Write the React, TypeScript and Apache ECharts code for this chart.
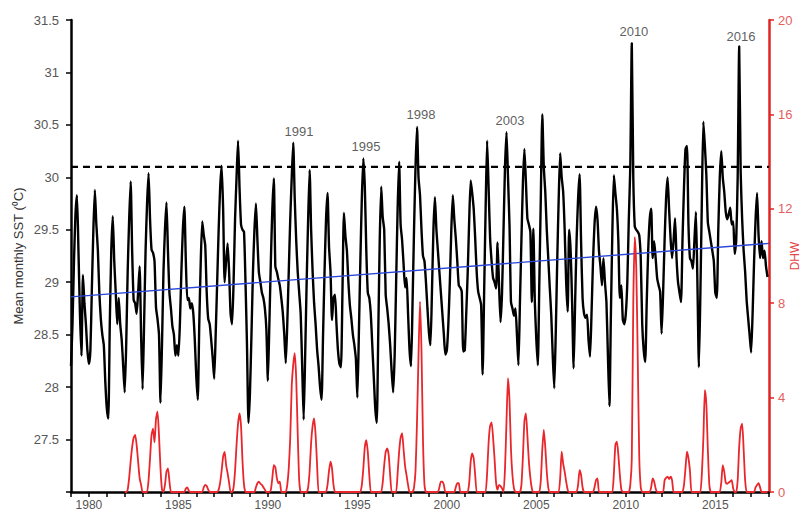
import React, { useEffect, useRef } from "react";
import * as echarts from "echarts";

// Monthly mean SST (°C), Jan 1979 – Dec 2017, one row per year
const sstStartYear = 1979;
const sstMonthly: number[] = [
  28.2, 28.6, 29.2, 29.65, 29.83, 29.3, 28.7, 28.3, 29.07, 28.8, 28.6, 28.35, // 1979
  28.22, 28.35, 28.95, 29.5, 29.88, 29.55, 29.31, 28.9, 28.65, 28.5, 28.4, 28.05, // 1980
  27.8, 27.7, 28.6, 29.3, 29.63, 29.2, 28.9, 28.6, 28.85, 28.6, 28.45, 28.2, // 1981
  27.95, 28.4, 29.1, 29.6, 29.96, 29.3, 28.83, 28.8, 28.7, 28.9, 29.15, 28.5, // 1982
  27.98, 28.6, 29.3, 29.75, 30.04, 29.6, 29.31, 29.28, 29.2, 28.76, 28.65, 28.5, // 1983
  27.85, 28.4, 29.1, 29.5, 29.76, 29.3, 28.9, 28.75, 28.58, 28.5, 28.3, 28.4, // 1984
  28.3, 28.6, 29.1, 29.5, 29.72, 29.2, 28.83, 28.85, 28.75, 28.8, 28.7, 28.45, // 1985
  28.1, 27.88, 28.6, 29.2, 29.58, 29.45, 29.35, 28.9, 28.65, 28.6, 28.45, 28.28, // 1986
  28.08, 28.5, 29.0, 29.5, 29.9, 30.11, 29.7, 29.0, 29.2, 29.37, 29.1, 28.7, // 1987
  28.6, 29.0, 29.6, 30.0, 30.35, 29.9, 29.55, 29.5, 29.48, 29.0, 28.4, 27.66, // 1988
  27.95, 28.5, 29.1, 29.5, 29.75, 29.4, 29.09, 29.0, 28.9, 28.85, 28.75, 28.55, // 1989
  28.06, 28.6, 29.2, 29.7, 29.99, 29.15, 29.1, 29.03, 28.97, 28.85, 28.71, 28.5, // 1990
  28.23, 28.6, 29.1, 29.6, 30.0, 30.33, 29.8, 29.4, 29.1, 28.9, 28.7, 28.2, // 1991
  27.69, 28.3, 29.0, 29.6, 30.07, 29.5, 29.1, 28.8, 28.6, 28.36, 28.2, 28.0, // 1992
  27.88, 28.5, 29.1, 29.6, 29.85, 29.34, 29.1, 28.64, 28.85, 28.88, 28.6, 28.35, // 1993
  28.22, 28.19, 28.9, 29.66, 29.44, 29.3, 29.0, 28.78, 28.65, 28.5, 28.4, 28.27, // 1994
  27.9, 28.5, 29.2, 29.8, 30.18, 29.91, 29.3, 28.9, 28.85, 28.7, 28.4, 28.1, // 1995
  27.8, 27.66, 28.5, 29.4, 29.91, 29.62, 29.5, 28.88, 28.75, 28.6, 28.4, 28.15, // 1996
  27.95, 28.3, 29.0, 29.7, 30.15, 29.55, 29.4, 29.17, 28.95, 29.04, 28.7, 28.35, // 1997
  28.2, 28.8, 29.5, 30.1, 30.48, 30.0, 29.83, 29.5, 29.25, 29.2, 29.0, 28.75, // 1998
  28.52, 28.4, 28.9, 29.5, 29.81, 29.5, 29.3, 29.1, 28.9, 28.7, 28.5, 28.31, // 1999
  28.35, 28.6, 29.0, 29.5, 29.83, 29.6, 29.42, 29.2, 28.97, 28.95, 28.91, 28.34, // 2000
  28.35, 28.7, 29.1, 29.6, 29.97, 29.85, 29.7, 29.42, 29.1, 28.91, 28.85, 28.78, // 2001
  28.12, 28.9, 29.7, 30.35, 29.9, 29.42, 29.2, 29.04, 29.0, 28.94, 29.38, 28.97, // 2002
  28.62, 28.9, 29.5, 30.1, 30.43, 30.0, 29.55, 28.81, 28.75, 28.68, 28.75, 28.5, // 2003
  28.21, 28.8, 29.4, 29.95, 30.27, 29.96, 29.61, 29.55, 29.48, 28.81, 29.51, 28.81, // 2004
  28.45, 28.21, 29.0, 29.8, 30.6, 30.1, 29.86, 29.5, 29.23, 28.95, 28.69, 28.3, // 2005
  27.99, 28.5, 29.2, 29.8, 30.23, 30.0, 29.86, 29.5, 29.0, 28.72, 29.5, 29.3, // 2006
  28.8, 28.18, 28.8, 29.4, 29.8, 30.03, 29.39, 28.85, 28.7, 28.66, 28.69, 28.45, // 2007
  28.29, 28.7, 29.2, 29.55, 29.72, 29.6, 29.3, 29.15, 28.97, 29.23, 29.0, 28.81, // 2008
  28.3, 27.82, 28.7, 29.5, 30.02, 29.85, 29.7, 29.39, 28.85, 28.97, 28.64, 28.6, // 2009
  28.7, 29.0, 29.6, 30.1, 31.28, 30.0, 29.53, 29.5, 29.48, 29.45, 29.23, 28.6, // 2010
  28.35, 28.24, 28.8, 29.3, 29.6, 29.7, 29.23, 29.39, 29.23, 29.04, 28.97, 28.91, // 2011
  28.51, 28.9, 29.4, 29.8, 30.0, 29.7, 29.42, 29.23, 29.39, 29.61, 29.23, 29.0, // 2012
  28.9, 28.81, 29.4, 29.9, 30.27, 30.3, 29.55, 29.23, 29.2, 29.13, 29.4, 29.67, // 2013
  29.0, 28.19, 28.9, 29.8, 30.53, 30.3, 30.02, 29.57, 29.48, 29.39, 29.3, 29.2, // 2014
  28.9, 28.85, 29.5, 30.0, 30.25, 30.0, 29.86, 29.67, 29.6, 29.65, 29.71, 29.55, // 2015
  29.58, 29.27, 29.39, 30.0, 31.25, 30.05, 29.6, 29.3, 29.1, 28.83, 28.66, 28.5, // 2016
  28.33, 28.7, 29.2, 29.6, 29.85, 29.45, 29.23, 29.39, 29.23, 29.3, 29.15, 29.05, // 2017
];

// Degree heating weeks, Jan 1982 – Dec 2017
const dhwStartYear = 1982;
const dhwMonthly: number[] = [
  0, 0, 0.1, 0.6, 1.3, 1.9, 2.3, 2.42, 2.0, 1.3, 0.6, 0.3, // 1982
  0, 0, 0, 0, 0.5, 1.43, 2.42, 2.68, 2.1, 3.1, 3.4, 2.4, // 1983
  1.0, 0.1, 0, 0.3, 0.86, 1.0, 0.45, 0, 0, 0, 0, 0, // 1984
  0, 0, 0, 0, 0, 0.15, 0.2, 0.05, 0, 0, 0, 0, // 1985
  0, 0, 0, 0, 0, 0.2, 0.3, 0.25, 0.1, 0, 0, 0, // 1986
  0, 0, 0, 0.1, 0.4, 0.9, 1.5, 1.7, 1.14, 0.8, 0.4, 0, // 1987
  0, 0.2, 0.9, 2.0, 2.9, 3.33, 2.8, 1.3, 0.3, 0, 0, 0, // 1988
  0, 0, 0, 0, 0.2, 0.37, 0.44, 0.35, 0.3, 0.2, 0.1, 0, // 1989
  0, 0, 0.1, 0.6, 1.14, 1.05, 0.6, 0.37, 0.44, 0, 0, 0, // 1990
  0, 0.3, 1.0, 2.3, 4.5, 5.4, 5.88, 4.8, 2.5, 0.5, 0, 0, // 1991
  0, 0, 0, 0.2, 0.9, 2.1, 2.8, 3.12, 2.42, 1.14, 0, 0, // 1992
  0, 0, 0, 0, 0.3, 0.9, 1.29, 1.0, 0.3, 0, 0, 0, // 1993
  0, 0, 0, 0, 0, 0, 0, 0, 0, 0, 0, 0, // 1994
  0, 0, 0, 0.3, 1.0, 1.9, 2.2, 1.7, 0.72, 0, 0, 0, // 1995
  0, 0, 0, 0, 0, 0.4, 1.14, 1.7, 1.85, 1.57, 0.72, 0, // 1996
  0, 0, 0, 0.8, 1.7, 2.3, 2.49, 1.8, 1.1, 0.7, 0.3, 0, // 1997
  0, 0, 0.2, 0.9, 3.0, 5.8, 8.07, 6.0, 2.2, 0.3, 0, 0, // 1998
  0, 0, 0, 0, 0, 0, 0, 0.2, 0.44, 0.44, 0.3, 0, // 1999
  0, 0, 0, 0, 0, 0, 0.2, 0.37, 0.37, 0, 0, 0, // 2000
  0, 0, 0, 0.4, 1.3, 1.64, 1.43, 0.72, 0, 0, 0, 0, // 2001
  0, 0, 0, 0.8, 2.1, 2.8, 2.95, 2.3, 1.4, 0.4, 0.1, 0.3, // 2002
  0.25, 0.15, 0, 1.0, 3.0, 4.82, 3.9, 1.8, 0.7, 0.15, 0, 0, // 2003
  0, 0, 0.3, 1.5, 3.0, 3.33, 2.4, 1.3, 0.6, 0.15, 0, 0, // 2004
  0, 0, 0, 0.5, 1.8, 2.63, 1.9, 0.86, 0.2, 0, 0, 0, // 2005
  0, 0, 0, 0, 0.6, 1.71, 1.2, 0.86, 0.44, 0.1, 0, 0, // 2006
  0, 0, 0, 0, 0.3, 0.93, 0.72, 0.2, 0, 0, 0, 0, // 2007
  0, 0, 0, 0.2, 0.5, 0.58, 0, 0, 0, 0, 0, 0, // 2008
  0, 0, 0, 0, 0.8, 2.0, 2.13, 1.57, 0.72, 0.1, 0, 0, // 2009
  0, 0, 0, 0.3, 1.4, 8.0, 10.8, 9.5, 5.66, 1.5, 0.2, 0, // 2010
  0, 0, 0, 0, 0, 0.2, 0.58, 0.44, 0.15, 0, 0, 0, // 2011
  0, 0, 0.5, 0.6, 0.65, 0.55, 0.65, 0.5, 0, 0, 0, 0, // 2012
  0, 0, 0, 0.3, 1.0, 1.71, 1.43, 0.9, 0, 0, 0, 0, // 2013
  0, 0, 0, 0.8, 2.3, 4.32, 3.7, 1.8, 0.3, 0, 0, 0, // 2014
  0, 0, 0, 0, 0.4, 1.14, 0.85, 0.4, 0.35, 0.4, 0.45, 0.5, // 2015
  0.15, 0, 0, 0.5, 1.9, 2.7, 2.9, 1.8, 0.5, 0, 0, 0, // 2016
  0, 0, 0, 0.2, 0.3, 0.37, 0.2, 0, 0, 0, 0, 0, // 2017
];

// Linear trend of SST (end points)
const trendYears = [1979, 2018];
const trendValues = [28.86, 29.37];

// Bleaching threshold (dashed line)
const thresholdYears = [1979, 2018];
const thresholdValue = 30.1;

// Year annotations above the warm peaks
const annotationLabels = ["1991", "1995", "1998", "2003", "2010", "2016"];
const annotationYears = [1991.74, 1995.48, 1998.55, 2003.53, 2010.45, 2016.43];
const annotationValues = [30.44, 30.29, 30.6, 30.54, 31.39, 31.34];

// Axis ranges / ticks
const xMin = 1979;
const xMax = 2018;
const xLabelStep = 5;
const sstMin = 27;
const sstMax = 31.5;
const sstStep = 0.5;
const dhwMin = 0;
const dhwMax = 20;
const dhwStep = 4;

const FONT = "'Liberation Sans', Arial, sans-serif";

export default function App() {
  const ref = useRef<HTMLDivElement>(null);

  useEffect(() => {
    if (!ref.current) return;
    const chart = echarts.init(ref.current, undefined, { renderer: "svg" });

    const sstData = sstMonthly.map((v, i) => [sstStartYear + i / 12, v]);
    const dhwData = dhwMonthly.map((v, i) => [dhwStartYear + i / 12, v]);
    const trendData = trendYears.map((y, i) => [y, trendValues[i]]);
    const thresholdData = thresholdYears.map((y) => [y, thresholdValue]);
    const annData = annotationLabels.map((name, i) => ({
      name,
      value: [annotationYears[i], annotationValues[i]],
    }));

    chart.setOption({
      animation: false,
      backgroundColor: "#ffffff",
      textStyle: { fontFamily: FONT },
      grid: {
        left: 71,
        right: 35,
        top: 20,
        bottom: 25,
        containLabel: false,
        outerBoundsMode: "none",
      },
      xAxis: {
        type: "value",
        min: xMin,
        max: xMax,
        interval: 1,
        axisLine: { show: true, lineStyle: { color: "#000", width: 2.5 } },
        axisTick: { show: true, length: 5, lineStyle: { color: "#000", width: 1.5 } },
        axisLabel: {
          color: "#555",
          fontSize: 12,
          margin: 7,
          fontFamily: FONT,
          formatter: (v: number) => (v % xLabelStep === 0 ? String(v) : ""),
        },
        splitLine: { show: false },
      },
      yAxis: [
        {
          type: "value",
          position: "left",
          min: sstMin,
          max: sstMax,
          interval: sstStep,
          name: "Mean monthly SST (⁰C)",
          nameLocation: "middle",
          nameGap: 46,
          nameMoveOverlap: false,
          nameTextStyle: { color: "#333", fontSize: 13, fontFamily: FONT },
          axisLine: { show: true, lineStyle: { color: "#000", width: 2.5 } },
          axisTick: { show: true, length: 5, lineStyle: { color: "#000", width: 1.5 } },
          axisLabel: {
            color: "#555",
            fontSize: 13,
            margin: 12,
            fontFamily: FONT,
            formatter: (v: number) => (v === sstMin ? "" : String(v)),
          },
          splitLine: { show: false },
        },
        {
          type: "value",
          position: "right",
          min: dhwMin,
          max: dhwMax,
          interval: dhwStep,
          name: "DHW",
          nameLocation: "middle",
          nameGap: 20,
          nameMoveOverlap: false,
          nameTextStyle: { color: "#e04848", fontSize: 12, fontFamily: FONT },
          axisLine: { show: true, lineStyle: { color: "#e02424", width: 2.5 } },
          axisTick: { show: true, length: 5, lineStyle: { color: "#e02424", width: 1.5 } },
          axisLabel: { color: "#e46060", fontSize: 13, margin: 9, fontFamily: FONT },
          splitLine: { show: false },
        },
      ],
      series: [
        {
          name: "SST",
          type: "line",
          yAxisIndex: 0,
          data: sstData,
          showSymbol: false,
          smooth: 0.2,
          lineStyle: { color: "#000", width: 2.4 },
          z: 2,
        },
        {
          name: "Threshold",
          type: "line",
          yAxisIndex: 0,
          data: thresholdData,
          showSymbol: false,
          lineStyle: { color: "#000", width: 2.2, type: [7, 5] },
          z: 3,
        },
        {
          name: "Trend",
          type: "line",
          yAxisIndex: 0,
          data: trendData,
          showSymbol: false,
          lineStyle: { color: "#2b45d6", width: 1.4 },
          z: 4,
        },
        {
          name: "DHW",
          type: "line",
          yAxisIndex: 1,
          data: dhwData,
          showSymbol: false,
          smooth: 0.2,
          lineStyle: { color: "#e8262b", width: 1.8 },
          z: 5,
        },
        {
          name: "Annotations",
          type: "scatter",
          yAxisIndex: 0,
          data: annData,
          symbolSize: 1,
          itemStyle: { color: "rgba(0,0,0,0)" },
          label: {
            show: true,
            position: "inside",
            formatter: (p: any) => p.name,
            color: "#333",
            fontSize: 13,
            fontFamily: FONT,
          },
          z: 6,
        },
      ],
    });

    return () => {
      chart.dispose();
    };
  }, []);

  return (
    <div
      ref={ref}
      style={{ position: "fixed", left: 0, top: 0, width: 804, height: 517, background: "#fff" }}
    />
  );
}
